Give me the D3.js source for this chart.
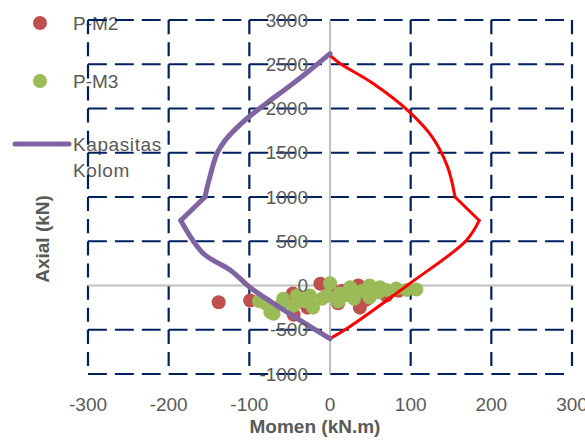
<!DOCTYPE html>
<html>
<head>
<meta charset="utf-8">
<script src="https://cdn.jsdelivr.net/npm/d3@7"></script>
<style>
  html, body { margin: 0; padding: 0; background: #fff; overflow: hidden; }
  text { font-family: "Liberation Sans", Arial, sans-serif; fill: #595959; }
</style>
</head>
<body>
<div id="chart"></div>
<script>
// kurva kapasitas kolom (sisi kiri, ungu) - busur atas lalu bagian bawah
const momenKiriAtas  = [0, -28, -52, -74, -95, -115, -130, -140, -150, -155];
const aksialKiriAtas = [2620, 2410, 2240, 2093, 1946, 1787, 1640, 1493, 1190, 1000];
const momenKiriBawah  = [-155, -185, -157, -123, -99, -62, 0];
const aksialKiriBawah = [1000, 735, 362, 170, -23, -249, -600];

// kurva sisi kanan (merah)
const momenKananAtas  = [0, 12, 53, 99, 127, 146, 155];
const aksialKananAtas = [2600, 2511, 2285, 1957, 1674, 1335, 1000];
const momenKananBawah  = [155, 185, 169, 99, 21, 0];
const aksialKananBawah = [1000, 735, 509, 23, -486, -600];

// P-M2 (merah)
const m2Momen  = [-138, -99, -46, -28, -12, -45, 10, 37, 35, 0, 70, 37, 70, 15, 55, 85, -5, 45];
const m2Aksial = [-190, -170, -90, -250, 20, -330, -200, -250, 0, 0, -90, -190, -113, -60, -40, -60, -120, -160];

// P-M3 (hijau)
const m3Momen  = [-80, -70, -74, -58, -41, -25, -21, 0, -4, -60, -30, 12, 25, 10, 49, 62, 82, 95, 107, 40, 49, 70, 30, -10, 20, -45, 60, -88];
const m3Aksial = [-200, -320, -300, -150, -113, -113, -250, 25, -113, -210, -180, -90, -20, -180, 0, -20, -35, -50, -45, -60, -135, -50, -150, -150, -110, -230, -80, -175];

const xTicks = [-300, -200, -100, 0, 100, 200, 300];
const yTicks = [-1000, -500, 0, 500, 1000, 1500, 2000, 2500, 3000];

const width = 585, height = 441;
const plot = { left: 88, right: 572, top: 20, bottom: 374 };

const svg = d3.select("#chart").append("svg")
    .attr("width", width)
    .attr("height", height);

const x = d3.scaleLinear().domain([-300, 300]).range([plot.left, plot.right]);
const y = d3.scaleLinear().domain([-1000, 3000]).range([plot.bottom, plot.top]);

// legenda (digambar dulu, garis grid lewat di atasnya)
const legend = svg.append("g");
legend.append("circle").attr("cx", 40).attr("cy", 23).attr("r", 7).attr("fill", "#C0504D");
legend.append("text").attr("x", 73).attr("y", 23).attr("dy", "0.35em")
    .style("font-size", "19px").text("P-M2");
legend.append("circle").attr("cx", 40).attr("cy", 81).attr("r", 7).attr("fill", "#9BBB59");
legend.append("text").attr("x", 73).attr("y", 81).attr("dy", "0.35em")
    .style("font-size", "19px").text("P-M3");
legend.append("line").attr("x1", 15).attr("x2", 69).attr("y1", 144).attr("y2", 144)
    .attr("stroke", "#8064A2").attr("stroke-width", 5).attr("stroke-linecap", "round");
legend.append("text").attr("x", 73).attr("y", 144).attr("dy", "0.35em")
    .style("font-size", "19px").style("letter-spacing", "0.6px").text("Kapasitas");
legend.append("text").attr("x", 73).attr("y", 170).attr("dy", "0.35em")
    .style("font-size", "19px").style("letter-spacing", "0.6px").text("Kolom");

// grid putus-putus
const hPeriod = (x(100) - x(0)) / 3;
const vPeriod = (y(0) - y(500)) / 2;
const grid = svg.append("g");

grid.selectAll("line.h")
    .data(yTicks.filter(d => d !== 0))
    .join("line")
    .attr("class", "h")
    .attr("x1", plot.left).attr("x2", plot.right)
    .attr("y1", d => y(d)).attr("y2", d => y(d))
    .attr("stroke", "#002060").attr("stroke-width", 2.2)
    .attr("stroke-dasharray", `${hPeriod - 8},8`);

grid.selectAll("line.v")
    .data(xTicks.filter(d => d !== 0))
    .join("line")
    .attr("class", "v")
    .attr("x1", d => x(d)).attr("x2", d => x(d))
    .attr("y1", plot.top).attr("y2", plot.bottom)
    .attr("stroke", "#002060").attr("stroke-width", 2.2)
    .attr("stroke-dasharray", `${vPeriod - 8},8`);

// sumbu nol
svg.append("line")
    .attr("x1", plot.left).attr("x2", plot.right)
    .attr("y1", y(0)).attr("y2", y(0))
    .attr("stroke", "#BFBFBF").attr("stroke-width", 2);
svg.append("line")
    .attr("x1", x(0)).attr("x2", x(0))
    .attr("y1", plot.top).attr("y2", plot.bottom)
    .attr("stroke", "#BFBFBF").attr("stroke-width", 2);

// titik P-M2 dan P-M3
svg.append("g").selectAll("circle")
    .data(d3.zip(m2Momen, m2Aksial))
    .join("circle")
    .attr("cx", d => x(d[0])).attr("cy", d => y(d[1]))
    .attr("r", 7).attr("fill", "#C0504D");

svg.append("g").selectAll("circle")
    .data(d3.zip(m3Momen, m3Aksial))
    .join("circle")
    .attr("cx", d => x(d[0])).attr("cy", d => y(d[1]))
    .attr("r", 7).attr("fill", "#9BBB59");

// kurva kapasitas
const smooth = d3.line().x(d => x(d[0])).y(d => y(d[1])).curve(d3.curveCatmullRom.alpha(0.5));
const straight = d3.line().x(d => x(d[0])).y(d => y(d[1])).curve(d3.curveCatmullRom.alpha(0.5));

function drawCurve(mAtas, pAtas, mBawah, pBawah, color, w) {
    const g = svg.append("g")
        .attr("fill", "none")
        .attr("stroke", color)
        .attr("stroke-width", w)
        .attr("stroke-linejoin", "round")
        .attr("stroke-linecap", "round");
    g.append("path").datum(d3.zip(mAtas, pAtas)).attr("d", smooth);
    g.append("path").datum(d3.zip(mBawah, pBawah).slice(0, 2)).attr("d", d3.line().x(d => x(d[0])).y(d => y(d[1])));
    g.append("path").datum(d3.zip(mBawah, pBawah).slice(1)).attr("d", straight);
}

drawCurve(momenKananAtas, aksialKananAtas, momenKananBawah, aksialKananBawah, "#FF0000", 3);
drawCurve(momenKiriAtas, aksialKiriAtas, momenKiriBawah, aksialKiriBawah, "#8064A2", 5);

// label sumbu
svg.append("g").selectAll("text")
    .data(yTicks)
    .join("text")
    .attr("x", x(0) - 22)
    .attr("y", d => y(d))
    .attr("dy", "0.35em")
    .attr("text-anchor", "end")
    .style("font-size", "19px")
    .text(d => d);

svg.append("g").selectAll("text")
    .data(xTicks)
    .join("text")
    .attr("x", d => x(d))
    .attr("y", 404)
    .attr("dy", "0.35em")
    .attr("text-anchor", "middle")
    .style("font-size", "19px")
    .text(d => d);

svg.append("text")
    .attr("x", 315).attr("y", 426).attr("dy", "0.35em")
    .attr("text-anchor", "middle")
    .style("font-size", "19px").style("font-weight", "bold")
    .text("Momen (kN.m)");

svg.append("text")
    .attr("transform", "translate(42,239) rotate(-90)")
    .attr("dy", "0.35em")
    .attr("text-anchor", "middle")
    .style("font-size", "19px").style("font-weight", "bold")
    .text("Axial (kN)");
</script>
</body>
</html>
